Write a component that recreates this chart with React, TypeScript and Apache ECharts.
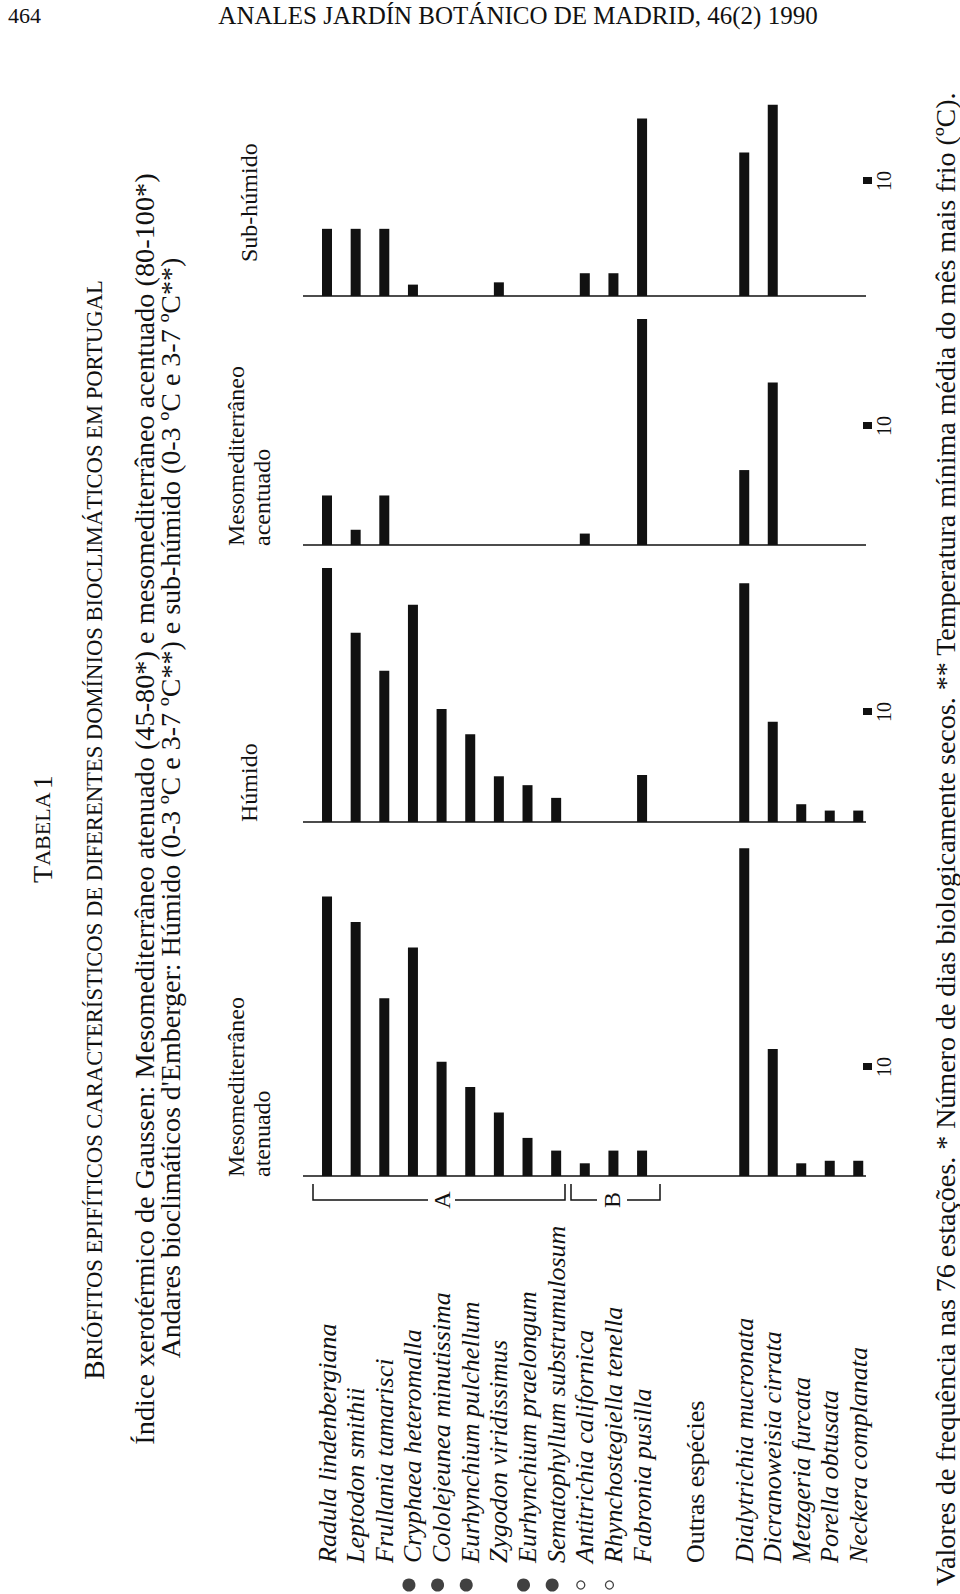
import React, { useEffect, useRef } from "react";
import * as echarts from "echarts";

// ---------- data ----------
const speciesMain = [
  "Radula lindenbergiana",
  "Leptodon smithii",
  "Frullania tamarisci",
  "Cryphaea heteromalla",
  "Cololejeunea minutissima",
  "Eurhynchium pulchellum",
  "Zygodon viridissimus",
  "Eurhynchium praelongum",
  "Sematophyllum substrumulosum",
  "Antitrichia californica",
  "Rhynchostegiella tenella",
  "Fabronia pusilla",
];
const speciesOther = [
  "Dialytrichia mucronata",
  "Dicranoweisia cirrata",
  "Metzgeria furcata",
  "Porella obtusata",
  "Neckera complanata",
];
const otherHeading = "Outras espécies";
const markers = ["", "", "", "filled", "filled", "filled", "", "filled", "filled", "open", "open", ""];
const groupLabels = ["A", "B"];

const domains = ["Mesomediterrâneo\natenuado", "Húmido", "Mesomediterrâneo\nacentuado", "Sub-húmido"];

const atenuadoMain = [22, 20, 14, 18, 9, 7, 5, 3, 2, 1, 2, 2];
const atenuadoOther = [25.8, 10, 1, 1.2, 1.2];
const humidoMain = [20, 14.9, 11.9, 17.1, 8.9, 6.9, 3.6, 2.9, 1.9, 0, 0, 3.7];
const humidoOther = [18.8, 7.9, 1.4, 0.9, 0.9];
const acentuadoMain = [3.9, 1.2, 3.9, 0, 0, 0, 0, 0, 0, 0.9, 0, 17.8];
const acentuadoOther = [5.9, 12.8, 0, 0, 0];
const subhumidoMain = [5.9, 5.9, 5.9, 1, 0, 0, 1.2, 0, 0, 2, 2, 15.6];
const subhumidoOther = [12.6, 16.8, 0, 0, 0];

const scaleLabel = "10";

const pageNumber = "464";
const runningHead = "ANALES JARDÍN BOTÁNICO DE MADRID, 46(2) 1990";
const tableNumber = ["T", "ABELA", "1"];
const titleText = ["B", "RIÓFITOS EPIFÍTICOS CARACTERÍSTICOS DE DIFERENTES DOMÍNIOS BIOCLIMÁTICOS EM PORTUGAL"];
const subtitle1 = "Índice xerotérmico de Gaussen: Mesomediterrâneo atenuado (45-80*) e mesomediterrâneo acentuado (80-100*)";
const subtitle2 = "Andares bioclimáticos d'Emberger: Húmido (0-3 ºC e 3-7 ºC**) e sub-húmido (0-3 ºC e 3-7 ºC**)";
const footnote =
  "Valores de frequência nas 76 estações. * Número de dias biologicamente secos. ** Temperatura mínima média do mês mais frio (ºC).";

// ---------- layout ----------
const FONT = '"Liberation Serif", "Times New Roman", serif';
const INK = "#111";
const ROT = Math.PI / 2;
const YMAX = 26;
const PX_PER_UNIT = 12.7;
const GH = YMAX * PX_PER_UNIT;
const GA = { left: 312.7, width: 343.7 };
const GB = { left: 730, width: 142.5 };
const panelLayout = [
  { base: 1176, scaleY: 1067, labelY: 1177 },
  { base: 822, scaleY: 712, labelY: 822 },
  { base: 545, scaleY: 426, labelY: 546 },
  { base: 296, scaleY: 181, labelY: 262 },
];
const panelData = [
  [atenuadoMain, atenuadoOther],
  [humidoMain, humidoOther],
  [acentuadoMain, acentuadoOther],
  [subhumidoMain, subhumidoOther],
];

function buildOption() {
  const grid: any[] = [];
  const xAxis: any[] = [];
  const yAxis: any[] = [];
  const series: any[] = [];
  const graphic: any[] = [];

  panelLayout.forEach((p, i) => {
    [GA, GB].forEach((g, j) => {
      const idx = grid.length;
      grid.push({ left: g.left, width: g.width, top: p.base - GH, height: GH });
      xAxis.push({ type: "category", gridIndex: idx, data: j === 0 ? speciesMain : speciesOther, show: false });
      yAxis.push({ type: "value", gridIndex: idx, min: 0, max: YMAX, show: false });
      series.push({
        type: "bar",
        xAxisIndex: idx,
        yAxisIndex: idx,
        data: panelData[i][j],
        barWidth: 10,
        itemStyle: { color: INK },
        silent: true,
      });
    });
    // baseline
    graphic.push({
      type: "line",
      shape: { x1: 303, y1: p.base, x2: 866, y2: p.base },
      style: { stroke: INK, lineWidth: 1.6 },
    });
    // scale mark
    graphic.push({ type: "rect", shape: { x: 863, y: p.scaleY - 4, width: 9, height: 7 }, style: { fill: INK } });
    graphic.push({
      type: "text",
      x: 884,
      y: p.scaleY,
      rotation: ROT,
      style: { text: scaleLabel, fontSize: 20, fontFamily: FONT, fill: INK, align: "center", verticalAlign: "middle" },
    });
    // domain label
    graphic.push({
      type: "text",
      x: 249,
      y: p.labelY,
      rotation: ROT,
      style: {
        text: domains[i],
        fontSize: 24,
        lineHeight: 26,
        fontFamily: FONT,
        fill: INK,
        align: "left",
        verticalAlign: "middle",
      },
    });
  });

  // species label axes
  const labelAxis = (data: string[]) => ({
    type: "category",
    position: "top",
    data,
    axisLine: { show: false },
    axisTick: { show: false },
    axisLabel: {
      rotate: 90,
      interval: 0,
      margin: 2,
      fontStyle: "italic",
      fontFamily: FONT,
      fontSize: 26,
      color: INK,
    },
  });
  [GA, GB].forEach((g, j) => {
    const idx = grid.length;
    grid.push({ left: g.left, width: g.width, top: 1565, height: 20 });
    xAxis.push({ ...labelAxis(j === 0 ? speciesMain : speciesOther), gridIndex: idx });
    yAxis.push({ type: "value", gridIndex: idx, min: 0, max: 1, show: false });
  });

  // marker dots
  const dotIdx = grid.length;
  grid.push({ left: GA.left, width: GA.width, top: 1578, height: 14 });
  xAxis.push({ type: "category", gridIndex: dotIdx, data: speciesMain, show: false });
  yAxis.push({ type: "value", gridIndex: dotIdx, min: 0, max: 1, show: false });
  series.push({
    type: "scatter",
    xAxisIndex: dotIdx,
    yAxisIndex: dotIdx,
    symbol: "circle",
    symbolOffset: [-4, 0],
    silent: true,
    data: markers
      .map((m, i) =>
        m === "filled"
          ? { value: [i, 0.5], symbolSize: 13, itemStyle: { color: INK } }
          : m === "open"
          ? { value: [i, 0.5], symbolSize: 8, itemStyle: { color: "#fff", borderColor: INK, borderWidth: 1.3 } }
          : null
      )
      .filter((d) => d !== null),
  });

  // "Outras espécies"
  graphic.push({
    type: "text",
    x: 695,
    y: 1563,
    rotation: ROT,
    style: { text: otherHeading, fontSize: 26, fontFamily: FONT, fill: INK, align: "left", verticalAlign: "middle" },
  });

  // group brackets
  const bracket = (x1: number, x2: number, g1: number, g2: number, label: string) => {
    const yH = 1200;
    const yT = 1184;
    graphic.push({ type: "polyline", shape: { points: [[x1, yT], [x1, yH], [g1, yH]] }, style: { stroke: INK, lineWidth: 1.5, fill: null } });
    graphic.push({ type: "polyline", shape: { points: [[g2, yH], [x2, yH], [x2, yT]] }, style: { stroke: INK, lineWidth: 1.5, fill: null } });
    graphic.push({
      type: "text",
      x: (g1 + g2) / 2,
      y: yH,
      rotation: ROT,
      style: { text: label, fontSize: 24, fontFamily: FONT, fill: INK, align: "center", verticalAlign: "middle" },
    });
  };
  bracket(313, 565, 428, 455, groupLabels[0]);
  bracket(571, 660, 597, 627, groupLabels[1]);

  // page header
  graphic.push({ type: "text", x: 8, y: 15, style: { text: pageNumber, fontSize: 22, fontFamily: FONT, fill: INK, align: "left", verticalAlign: "middle" } });
  graphic.push({ type: "text", x: 518, y: 15, style: { text: runningHead, fontSize: 25, fontFamily: FONT, fill: INK, align: "center", verticalAlign: "middle" } });

  // rotated titles
  graphic.push({
    type: "text",
    x: 42,
    y: 829,
    rotation: ROT,
    style: {
      text: `{b|${tableNumber[0]}}{s|${tableNumber[1]}} {b|${tableNumber[2]}}`,
      rich: { b: { fontSize: 28, fontFamily: FONT, fill: INK }, s: { fontSize: 22, fontFamily: FONT, fill: INK } },
      align: "center",
      verticalAlign: "middle",
    },
  });
  graphic.push({
    type: "text",
    x: 94,
    y: 830,
    rotation: ROT,
    style: {
      text: `{b|${titleText[0]}}{s|${titleText[1]}}`,
      rich: { b: { fontSize: 29, fontFamily: FONT, fill: INK }, s: { fontSize: 22.6, fontFamily: FONT, fill: INK } },
      align: "center",
      verticalAlign: "middle",
    },
  });
  graphic.push({
    type: "text",
    x: 144,
    y: 809,
    rotation: ROT,
    style: { text: subtitle1, fontSize: 28.3, fontFamily: FONT, fill: INK, align: "center", verticalAlign: "middle" },
  });
  graphic.push({
    type: "text",
    x: 170,
    y: 808,
    rotation: ROT,
    style: { text: subtitle2, fontSize: 28, fontFamily: FONT, fill: INK, align: "center", verticalAlign: "middle" },
  });
  // footnote
  graphic.push({
    type: "text",
    x: 945,
    y: 1586,
    rotation: ROT,
    style: { text: footnote, fontSize: 28, fontFamily: FONT, fill: INK, align: "left", verticalAlign: "middle" },
  });

  return {
    animation: false,
    backgroundColor: "#fff",
    grid,
    xAxis,
    yAxis,
    series,
    graphic: { elements: graphic },
  };
}

export default function App() {
  const ref = useRef<HTMLDivElement>(null);
  useEffect(() => {
    if (!ref.current) return;
    const chart = echarts.init(ref.current, undefined, { renderer: "svg" });
    chart.setOption(buildOption() as any);
    return () => chart.dispose();
  }, []);
  return (
    <div
      ref={ref}
      style={{ position: "absolute", left: 0, top: 0, width: 960, height: 1594, background: "#fff" }}
    />
  );
}
